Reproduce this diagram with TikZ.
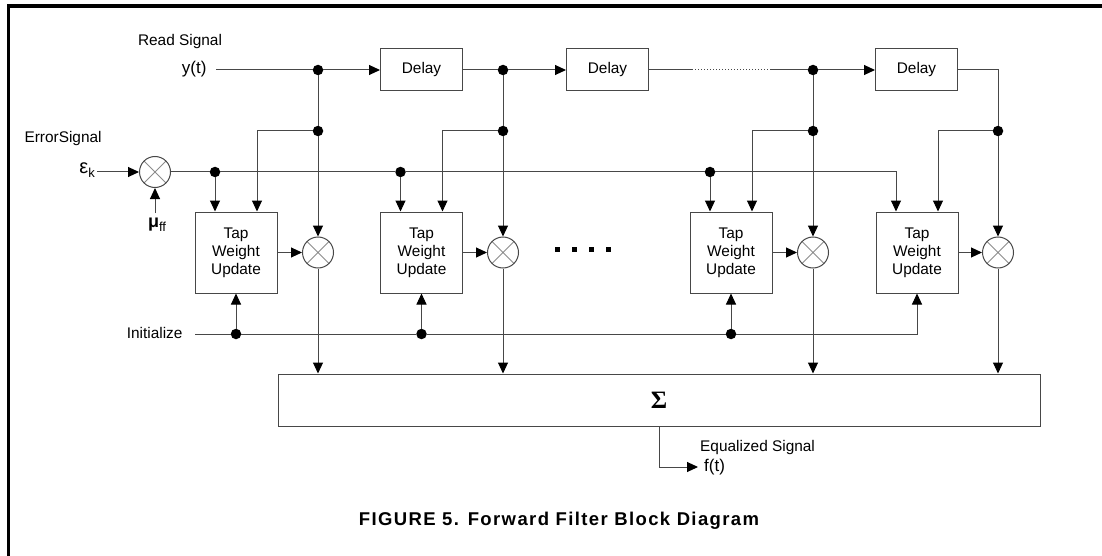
\documentclass[tikz,border=0pt]{standalone}
\usepackage{fontspec}
\setmainfont{Liberation Sans}
\newfontfamily\serifgreek{Liberation Serif}
\usetikzlibrary{arrows.meta}
\colorlet{linegray}{black!72}

\begin{document}
\begin{tikzpicture}[
    x=1pt, y=-1pt,
    every node/.style={font=\fontsize{15.4}{18}\selectfont},
    box/.style={draw=linegray, line width=1pt, minimum width=82pt,
                minimum height=42pt, align=center, inner sep=0pt},
    tapbox/.style={box, minimum height=81pt},
    mult/.style={circle, draw=linegray, line width=1pt, minimum size=31pt,
                 inner sep=0pt,
                 path picture={\draw[black!45, line width=0.8pt]
                   (path picture bounding box.north west) -- (path picture bounding box.south east)
                   (path picture bounding box.north east) -- (path picture bounding box.south west);}},
    dot/.style={circle, fill=black, minimum size=10.5pt, inner sep=0pt},
    line/.style={draw=linegray, line width=1pt},
    arrow/.style={line, -{Triangle[length=11pt, width=10pt, color=black]}}
]
\useasboundingbox (0,0) rectangle (1102,556);
\draw[line width=3.5pt] (8.5,556) -- (8.5,6) -- (1102,6);

% read signal and delay line
\node (rdlbl) at (180,42) {Read Signal};
\node[anchor=east, font=\fontsize{17}{17}\selectfont] (ylbl) at (210,69) {y(t)};
\coordinate (ysrc) at (216,70);
\node[box] (d1) at (421.5,70) {Delay};
\node[box] (d2) at (607.5,70) {Delay};
\node[box] (d3) at (916.5,70) {Delay};
\foreach \i/\cx in {1/318, 2/503, 3/813}
    \node[dot] (y\i) at (\cx,70) {};

% taps
\foreach \i/\bx/\cx in {1/236/318, 2/421.5/503, 3/731/813, 4/917/998} {
    \node[tapbox] (tw\i) at (\bx,252.5) {Tap\\Weight\\Update};
    \node[mult] (m\i) at (\cx,252.5) {};
    \node[dot] (r\i) at (\cx,131) {};
}
% omitted taps
\foreach \x in {557,574,591,608}
    \fill (\x-2.5,246.5) rectangle (\x+2.5,251.5);
\node[box, minimum width=762pt, minimum height=52pt,
      font=\serifgreek\bfseries\fontsize{25}{25}\selectfont] (sum) at (659,400) {Σ};

% error signal
\node[anchor=west] (errlbl) at (21,139) {ErrorSignal};
\node[anchor=east, inner sep=1pt] (eps) at (96,170)
     {{\fontsize{20}{20}\selectfont ε}\raisebox{-4pt}{\fontsize{13}{13}\selectfont k}};
\coordinate (epsrc) at (97,172);
\node[mult] (em) at (155,172) {};
\node (mu) at (157,225) {{\fontsize{18}{18}\selectfont\bfseries μ}\raisebox{-4pt}{\fontsize{13}{13}\selectfont ff}};
\coordinate (musrc) at (155,213);
\foreach \i/\bx in {1/236, 2/421.5, 3/731}
    \node[dot] (e\i) at (\bx-21,172) {};

% initialize
\node[anchor=east] (initlbl) at (186,333) {Initialize};
\coordinate (insrc) at (195,334);
\foreach \i/\bx in {1/236, 2/421.5, 3/731}
    \node[dot] (n\i) at (\bx,334) {};

% output and caption
\node[anchor=west, inner sep=1pt] (eqlbl) at (699,448) {Equalized Signal};
\node[anchor=west, inner sep=0pt, inner xsep=6pt, font=\fontsize{17}{17}\selectfont]
     (ft) at (698,467) {f(t)};
\node[font=\fontsize{18.5}{18}\selectfont\bfseries\addfontfeature{LetterSpace=7.5}]
     (cap) at (559,521) {FIGURE 5. Forward Filter Block Diagram};

% connectors
\draw[line] (ysrc) -- (y1);
\draw[arrow] (y1) -- (d1);
\draw[line] (d1) -- (y2);
\draw[arrow] (y2) -- (d2);
\coordinate (gap1) at (692,70);
\coordinate (gap2) at (770,70);
\draw[line] (d2) -- (gap1);
\draw[line, dotted] (gap1) -- (gap2);
\draw[line] (gap2) -- (y3);
\draw[arrow] (y3) -- (d3);
\draw[line] (d3) -| (r4);
\foreach \i in {1,2,3}
    \draw[line] (y\i) -- (r\i);

\foreach \i in {1,...,4} {
    \draw[arrow] (r\i) -| ([xshift=21pt]tw\i.north);
    \draw[arrow] (r\i) -- (m\i);
    \draw[arrow] (tw\i) -- (m\i);
    \draw[arrow] (m\i) -- (m\i |- sum.north);
}

\draw[arrow] (epsrc) -- (em);
\draw[arrow] (musrc) -- (em);
\draw[line] (em) -- (e1) -- (e2) -- (e3);
\draw[arrow] (e3) -| ([xshift=-21pt]tw4.north);
\foreach \i in {1,2,3}
    \draw[arrow] (e\i) -- (e\i |- tw\i.north);

\draw[line] (insrc) -- (n1) -- (n2) -- (n3);
\draw[arrow] (n3) -| (tw4.south);
\foreach \i in {1,2,3}
    \draw[arrow] (n\i) -- (tw\i);

\draw[arrow] (sum.south) |- (ft.west);
\end{tikzpicture}
\end{document}
